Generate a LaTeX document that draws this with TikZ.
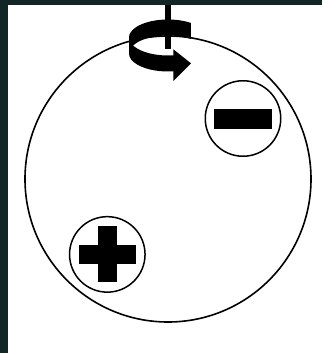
\documentclass[tikz,border=0pt]{standalone}
\usepackage{xcolor}
\usepackage{tikz}
\definecolor{spacedark}{RGB}{18,38,40}

\tikzset{
    ion/.style={circle,draw,line width=1.5pt,minimum size=75.5pt,inner sep=0pt},
    ionbar/.style={rectangle,fill=black,inner sep=0pt},
}

\begin{document}
\begin{tikzpicture}[x=1pt,y=-1pt]
    \useasboundingbox (0,0) rectangle (322,353);
    \fill[spacedark] (0,0) rectangle (322,353);
    \fill[white] (8,5) rectangle (322,353);

    % Cell with its two charges
    \node[circle,draw,line width=1.6pt,minimum size=286pt,inner sep=0pt] (cell) at (168,179) {};
    \node[ion] (minus) at (243,118.5) {};
    \node[ion] (plus) at (107.3,254.4) {};
    \node[ionbar,minimum width=58pt,minimum height=20pt] (minusbar) at (minus) {};
    \node[ionbar,minimum width=57pt,minimum height=19pt] (plusbar) at (plus) {};
    \node[ionbar,minimum width=19pt,minimum height=56pt] (plusstem) at (plus) {};

    % Spin axis and rotation arrow
    \coordinate (axtop) at (168,5);
    \coordinate (axbot) at (168,49);
    \coordinate (ring) at (168,37.5);
    \draw[line width=5.5pt] (axtop) -- (axbot);
    \fill (ring) ++(-54:39 and 18) arc[start angle=-54,end angle=-180,x radius=39,y radius=18]
        -- ++(0,16) arc[start angle=-180,end angle=-54,x radius=39,y radius=18] -- cycle;
    \fill (ring) ++(-180:39 and 18) arc[start angle=-180,end angle=-279,x radius=39,y radius=18]
        -- ++(0,16) arc[start angle=-279,end angle=-180,x radius=39,y radius=18] -- cycle;
    \fill (173.3,49.3) -- (191,63.3) -- (173.3,81) -- cycle;
\end{tikzpicture}
\end{document}
